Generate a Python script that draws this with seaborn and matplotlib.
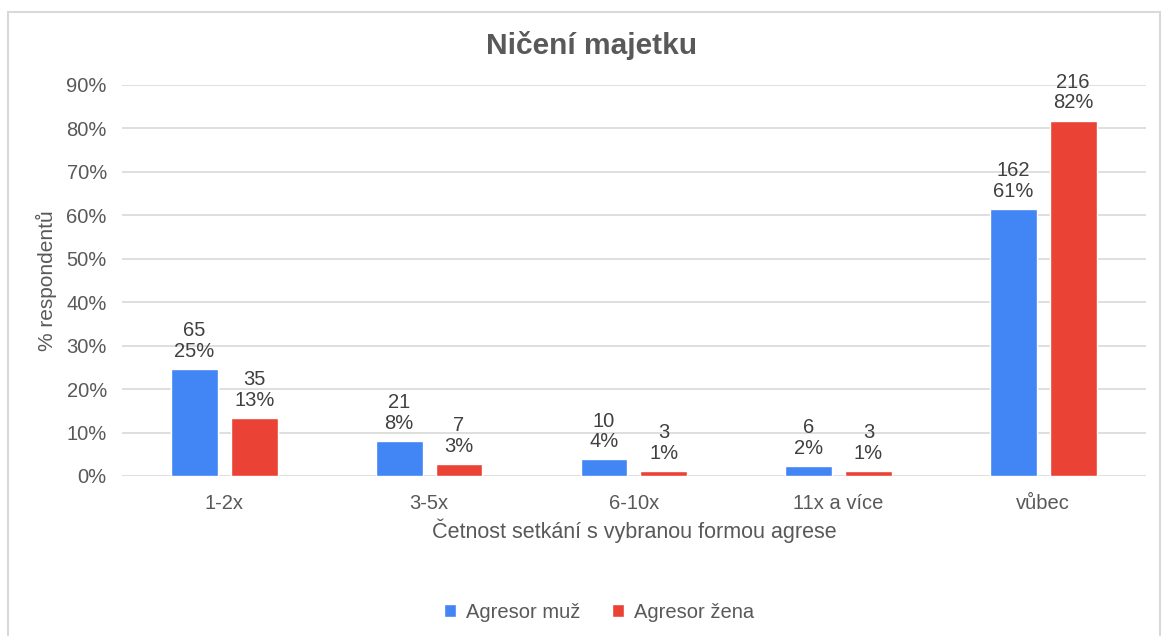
import warnings
warnings.filterwarnings("ignore")
import matplotlib
matplotlib.use("Agg")
import matplotlib.pyplot as plt
import matplotlib.ticker as mticker
from matplotlib.patches import Rectangle
import pandas as pd
import seaborn as sns

categories = ['1-2x', '3-5x', '6-10x', '11x a více', 'vůbec']
series = ['Agresor muž', 'Agresor žena']
counts_muz = [65, 21, 10, 6, 162]
counts_zena = [35, 7, 3, 3, 216]
pct_muz = [24.6, 8.0, 3.8, 2.3, 61.4]
pct_zena = [13.3, 2.7, 1.1, 1.1, 81.8]
colors = ['#4285F4', '#EA4335']

df = pd.DataFrame({
    'kategorie': categories * 2,
    'serie': [series[0]] * 5 + [series[1]] * 5,
    'pct': [p / 100 for p in pct_muz + pct_zena],
    'count': counts_muz + counts_zena,
})

sns.set_style("white")
plt.rcParams['font.family'] = ['Liberation Sans', 'DejaVu Sans']
txt = '#595959'

fig = plt.figure(figsize=(11.69, 6.36), dpi=100)
ax = fig.add_axes([0.1044, 0.2516, 0.8756, 0.6148])
fig.patches.append(Rectangle((8 / 1169, -0.05), 1152 / 1169, 1.05 - 12 / 636,
                             transform=fig.transFigure, fill=False,
                             edgecolor='#d9d9d9', linewidth=1.5))

sns.barplot(data=df, x='kategorie', y='pct', hue='serie', palette=colors,
            order=categories, hue_order=series, width=0.585, gap=0.22,
            saturation=1, ax=ax, zorder=3)

for cont, cnt in zip(ax.containers, [counts_muz, counts_zena]):
    labels = [f'{c}\n{round(b.get_height() * 100):.0f}%' for c, b in zip(cnt, cont)]
    ax.bar_label(cont, labels=labels, padding=6, fontsize=14.5, color='#404040',
                 linespacing=1.1)

ax.set_ylim(0, 0.9)
ax.set_xlim(-0.5, 4.5)
ax.yaxis.set_major_locator(mticker.MultipleLocator(0.1))
ax.yaxis.set_major_formatter(mticker.PercentFormatter(1.0, decimals=0))
ax.grid(axis='y', color='#d9d9d9', linewidth=1.2, zorder=0)
for s in ax.spines.values():
    s.set_visible(False)
ax.tick_params(axis='both', length=0, labelsize=14.5, colors=txt)
ax.tick_params(axis='y', pad=11)
ax.tick_params(axis='x', pad=13)
ax.set_xlabel('Četnost setkání s vybranou formou agrese', fontsize=15.5, color=txt, labelpad=4)
ax.set_ylabel('% respondentů', fontsize=15, color=txt, labelpad=7)
ax.set_title('Ničení majetku', fontsize=21.5, fontweight='bold', color=txt, pad=22, x=0.459)

leg = ax.legend(loc='center', bbox_to_anchor=(0.466, -0.348), ncol=2, frameon=False,
                fontsize=14.5, handlelength=0.6, handleheight=0.6, columnspacing=1.6,
                handletextpad=0.5)
for t in leg.get_texts():
    t.set_color(txt)

fig.savefig('out.png', dpi=100)
